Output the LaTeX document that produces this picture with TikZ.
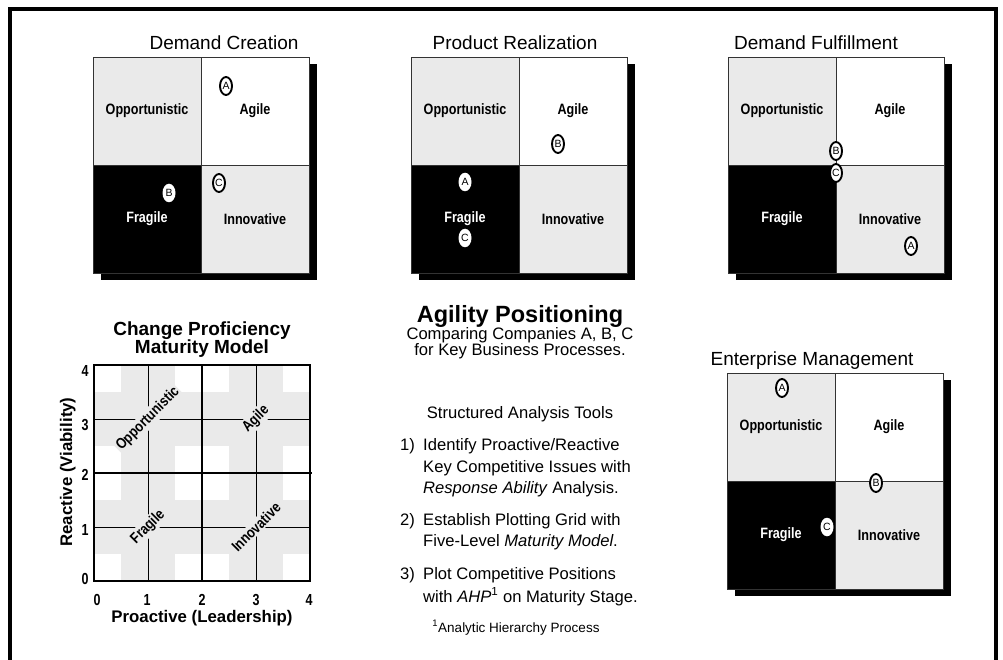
\documentclass[tikz,border=0pt]{standalone}
\usepackage{fontspec}
\setmainfont{Liberation Sans}
\newfontfamily\nar[FakeStretch=0.84]{Liberation Sans}
\newfontfamily\narr[FakeStretch=0.78]{Liberation Sans}
\usetikzlibrary{shapes.geometric}
\definecolor{qgray}{HTML}{EAEAEA}
\definecolor{qline}{HTML}{333333}
\newcommand\qlab{\nar\bfseries\fontsize{15}{18}\selectfont}
\newcommand\axlab{\bfseries\fontsize{16.8}{20}\selectfont}
\newcommand\ticklab{\narr\bfseries\fontsize{16}{19}\selectfont}
\newcommand\ttlfont{\fontsize{19}{22}\selectfont}
\newcommand\bodyfont{\fontsize{16.6}{19}\selectfont}
\newcommand\mkfont{\fontsize{10.5}{11}\selectfont}
\tikzset{
  qbox/.style={draw=qline, line width=0.8pt, minimum width=108pt, minimum height=108pt, inner sep=0pt, font=\qlab},
  mk/.style={ellipse, draw=black, line width=1.9pt, fill=white, minimum width=12pt, minimum height=18pt, inner sep=0pt, font=\mkfont},
  mkw/.style={ellipse, fill=white, minimum width=13pt, minimum height=18.5pt, inner sep=0pt, font=\mkfont},
  ttl/.style={anchor=base, inner sep=0pt, font=\ttlfont},
  body/.style={anchor=base, inner sep=0pt, font=\bodyfont},
  bodyw/.style={anchor=base west, inner sep=0pt, font=\bodyfont},
  mlab/.style={rotate=45, fill=qgray, inner sep=1.5pt, font=\qlab},
  tick/.style={inner sep=0pt, anchor=base, font=\ticklab},
  quad/.pic={
    \fill[black] (8,7) rectangle (224,223);
    \node[qbox, fill=qgray] (-opp) at (54,54) {Opportunistic};
    \node[qbox, fill=white] (-agi) at (162,54) {Agile};
    \node[qbox, fill=black, text=white] (-fra) at (54,162) {Fragile};
    \node[qbox, fill=qgray] (-inn) at (162,162) {Innovative};
  }
}
\begin{document}
\begin{tikzpicture}[x=1pt,y=-1pt]
\useasboundingbox (0,0) rectangle (1003,660);
\draw[line width=4pt] (10,662) -- (10,9) -- (996,9) -- (996,662);

% ---------- quadrant charts ----------
\pic (dc) at (93,57) {quad};
\pic (pr) at (411,57) {quad};
\pic (df) at (728,57) {quad};
\pic (em) at (727,373) {quad};

\node[ttl] (dct) at (224,50) {Demand Creation};
\node[ttl] (prt) at (515,50) {Product Realization};
\node[ttl] (dft) at (816,50) {Demand Fulfillment};
\node[ttl] (emt) at (812,365) {Enterprise Management};

% markers
\node[mk]  (dcA) at (226,86) {A};
\node[mkw] (dcB) at (169,193) {B};
\node[mk]  (dcC) at (219,183) {C};

\node[mk]  (prB) at (558,144) {B};
\node[mkw] (prA) at (465,182) {A};
\node[mkw] (prC) at (465,238) {C};

\node[mk]  (dfB) at (836,151) {B};
\node[mk]  (dfC) at (836,173) {C};
\node[mk]  (dfA) at (911,246) {A};

\node[mk]  (emA) at (782,388) {A};
\node[mk]  (emB) at (876,483) {B};
\node[mkw] (emC) at (827,527) {C};

% ---------- maturity model ----------
\node[anchor=base, inner sep=0pt, font=\bfseries\fontsize{19}{22}\selectfont] (mt1) at (202,335) {Change Proficiency};
\node[anchor=base, inner sep=0pt, font=\bfseries\fontsize{19}{22}\selectfont] (mt2) at (202,353) {Maturity Model};
\begin{scope}[shift={(94pt,-581pt)}, x=54pt, y=54pt]
  \fill[qgray] (0,0) rectangle (4,4);
  \foreach \xa/\xb in {0/0.5,1.5/2.5,3.5/4}
    \foreach \ya/\yb in {0/0.5,1.5/2.5,3.5/4}
      \fill[white] (\xa,\ya) rectangle (\xb,\yb);
  \draw[line width=0.9pt] (1,0) -- (1,4) (3,0) -- (3,4) (0,1) -- (4,1) (0,3) -- (4,3);
  \node[mlab] (mOpp) at (1,3) {Opportunistic};
  \node[mlab] (mAgi) at (3,3) {Agile};
  \node[mlab] (mFra) at (1,1) {Fragile};
  \node[mlab] (mInn) at (3,1) {Innovative};
  \draw[line width=2pt] (0,0) rectangle (4,4);
  \draw[line width=2pt] (2,0) -- (2,4) (0,2) -- (4.04,2);
\end{scope}
\node[tick] (tx0) at (97,605) {0};
\node[tick] (tx1) at (147,605) {1};
\node[tick] (tx2) at (202,605) {2};
\node[tick] (tx3) at (256,605) {3};
\node[tick] (tx4) at (309,605) {4};
\node[tick] (ty4) at (85,376) {4};
\node[tick] (ty3) at (85,430) {3};
\node[tick] (ty2) at (85,480) {2};
\node[tick] (ty1) at (85,535) {1};
\node[tick] (ty0) at (85,584) {0};
\node[anchor=base, inner sep=0pt, font=\axlab] (xax) at (202,622) {Proactive (Leadership)};
\node[anchor=base, inner sep=0pt, rotate=90, font=\axlab] (yax) at (72,472) {Reactive (Viability)};

% ---------- centre text ----------
\node[anchor=base, inner sep=0pt, font=\bfseries\fontsize{23.5}{26}\selectfont] (ap) at (520,322) {Agility Positioning};
\node[body] (c1) at (520,339) {Comparing Companies A, B, C};
\node[body] (c2) at (520,355) {for Key Business Processes.};
\node[body] (sat) at (520,418) {Structured Analysis Tools};
\node[bodyw] (n1) at (400,450) {1)};
\node[bodyw] (l1a) at (423,450) {Identify Proactive/Reactive};
\node[bodyw] (l1b) at (423,472) {Key Competitive Issues with};
\node[bodyw] (l1c) at (423,493) {\textit{Response Ability} Analysis.};
\node[bodyw] (n2) at (400,525) {2)};
\node[bodyw] (l2a) at (423,525) {Establish Plotting Grid with};
\node[bodyw] (l2b) at (423,546.5) {Five-Level \textit{Maturity Model}.};
\node[bodyw] (n3) at (400,579) {3)};
\node[bodyw] (l3a) at (423,579) {Plot Competitive Positions};
\node[bodyw] (l3b) at (423,602) {with \textit{AHP}\textsuperscript{1} on Maturity Stage.};
\node[anchor=base, inner sep=0pt, font=\fontsize{13.5}{16}\selectfont] (fn) at (516,632) {\textsuperscript{1}Analytic Hierarchy Process};
\end{tikzpicture}
\end{document}
